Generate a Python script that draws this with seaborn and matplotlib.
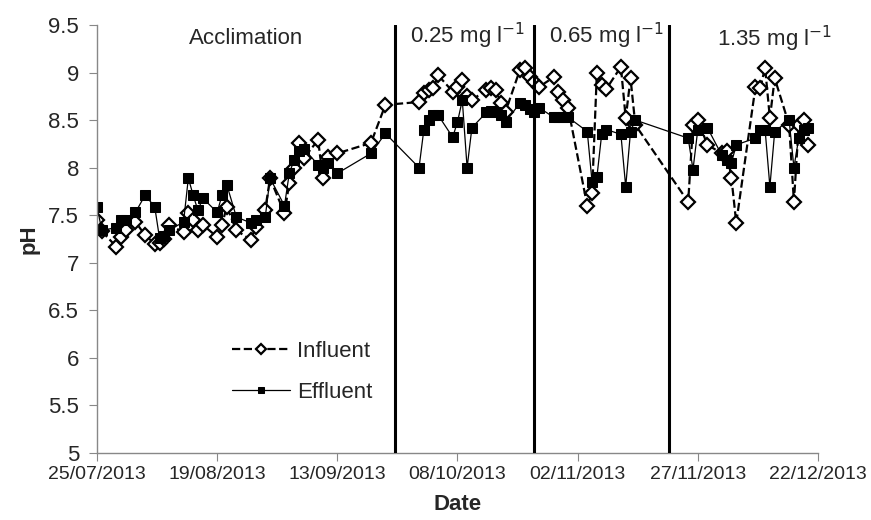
import pandas as pd
import matplotlib.pyplot as plt
import matplotlib.dates as mdates
from matplotlib.ticker import FormatStrFormatter
import seaborn as sns

# dates of sampling
dates = ["2013-07-25", "2013-07-26", "2013-07-29", "2013-07-30", "2013-07-31",
         "2013-08-02", "2013-08-04", "2013-08-06", "2013-08-07", "2013-08-08",
         "2013-08-09", "2013-08-12", "2013-08-13", "2013-08-14", "2013-08-15",
         "2013-08-16", "2013-08-19", "2013-08-20", "2013-08-21", "2013-08-23",
         "2013-08-26", "2013-08-27", "2013-08-29", "2013-08-30", "2013-09-02",
         "2013-09-03", "2013-09-04", "2013-09-05", "2013-09-06", "2013-09-09",
         "2013-09-10", "2013-09-11", "2013-09-13", "2013-09-20", "2013-09-23",
         "2013-09-30", "2013-10-01", "2013-10-02", "2013-10-03", "2013-10-04",
         "2013-10-07", "2013-10-08", "2013-10-09", "2013-10-10", "2013-10-11",
         "2013-10-14", "2013-10-15", "2013-10-16", "2013-10-17", "2013-10-18",
         "2013-10-21", "2013-10-22", "2013-10-23", "2013-10-24", "2013-10-25",
         "2013-10-28", "2013-10-29", "2013-10-30", "2013-10-31", "2013-11-04",
         "2013-11-05", "2013-11-06", "2013-11-07", "2013-11-08", "2013-11-11",
         "2013-11-12", "2013-11-13", "2013-11-14", "2013-11-25", "2013-11-26",
         "2013-11-27", "2013-11-29", "2013-12-02", "2013-12-03", "2013-12-04",
         "2013-12-05", "2013-12-09", "2013-12-10", "2013-12-11", "2013-12-12",
         "2013-12-13", "2013-12-16", "2013-12-17", "2013-12-18", "2013-12-19",
         "2013-12-20"]

influent = [7.45, 7.33, 7.17, 7.27, 7.34, 7.43, 7.29, 7.20, 7.21, 7.25,
            7.40, 7.32, 7.52, 7.45, 7.34, 7.40, 7.27, 7.40, 7.59, 7.34,
            7.24, 7.38, 7.56, 7.89, 7.52, 7.84, 8.00, 8.26, 8.10, 8.29,
            7.89, 8.11, 8.15, 8.26, 8.66, 8.69, 8.78, 8.82, 8.84, 8.97,
            8.80, 8.85, 8.92, 8.75, 8.71, 8.82, 8.84, 8.82, 8.68, 8.59,
            9.03, 9.05, 8.95, 8.90, 8.85, 8.95, 8.80, 8.71, 8.63, 7.60,
            7.73, 9.00, 8.87, 8.83, 9.06, 8.52, 8.94, 8.45, 7.64, 8.45,
            8.50, 8.24, 8.15, 8.18, 7.89, 7.42, 8.85, 8.84, 9.05, 8.52,
            8.94, 8.45, 7.64, 8.45, 8.50, 8.24]

effluent = [7.59, 7.34, 7.37, 7.45, 7.45, 7.53, 7.71, 7.59, 7.26, 7.28,
            7.34, 7.43, 7.89, 7.71, 7.55, 7.68, 7.53, 7.71, 7.82, 7.48,
            7.42, 7.45, 7.48, 7.89, 7.60, 7.94, 8.08, 8.18, 8.20, 8.03,
            8.00, 8.05, 7.94, 8.15, 8.36, 8.00, 8.40, 8.50, 8.55, 8.55,
            8.32, 8.48, 8.71, 8.00, 8.42, 8.58, 8.60, 8.58, 8.55, 8.48,
            8.68, 8.66, 8.62, 8.58, 8.63, 8.53, 8.53, 8.53, 8.53, 8.38,
            7.85, 7.90, 8.35, 8.40, 8.35, 7.80, 8.38, 8.50, 8.31, 7.98,
            8.40, 8.42, 8.13, 8.08, 8.05, 8.24, 8.31, 8.40, 8.40, 7.80,
            8.38, 8.50, 8.00, 8.31, 8.40, 8.42]

# phase boundaries and labels
phase_changes = ["2013-09-25", "2013-10-24", "2013-11-21"]
phase_labels = ["Acclimation", "0.25 mg l$^{-1}$", "0.65 mg l$^{-1}$", "1.35 mg l$^{-1}$"]
phase_label_dates = ["2013-08-25", "2013-10-10", "2013-11-08", "2013-12-13"]
phase_label_y = [9.36, 9.39, 9.38, 9.35]
y_ticks = [5, 5.5, 6, 6.5, 7, 7.5, 8, 8.5, 9, 9.5]

df = pd.DataFrame({"Date": pd.to_datetime(dates), "Influent": influent, "Effluent": effluent})

sns.set_style("white")
plt.rcParams['font.family'] = ['Liberation Sans', 'DejaVu Sans']

fig = plt.figure(figsize=(8.71, 5.2), dpi=100)
ax = fig.add_axes([0.1114, 0.1288, 0.8277, 0.8232])

sns.lineplot(data=df, x="Date", y="Influent", ax=ax, color="black", linestyle="--",
             linewidth=1.6, marker="D", markersize=7, markerfacecolor="white",
             markeredgecolor="black", markeredgewidth=1.6, label="Influent", sort=False)
sns.lineplot(data=df, x="Date", y="Effluent", ax=ax, color="black", linestyle="-",
             linewidth=0.9, marker="s", markersize=7, markerfacecolor="black",
             markeredgecolor="black", label="Effluent", sort=False)

for d in phase_changes:
    ax.axvline(pd.Timestamp(d), color="black", linewidth=2.2, zorder=5)

for lab, d, yy in zip(phase_labels, phase_label_dates, phase_label_y):
    ax.text(pd.Timestamp(d), yy, lab, ha="center", va="center", fontsize=16)

ax.set_ylim(5, 9.5)
ax.set_yticks(y_ticks)
ax.yaxis.set_major_formatter(FormatStrFormatter('%g'))
ax.set_xlim(pd.Timestamp("2013-07-25"), pd.Timestamp("2013-12-22"))
ax.set_xticks(pd.date_range("2013-07-25", periods=7, freq="25D"))
ax.xaxis.set_major_formatter(mdates.DateFormatter("%d/%m/%Y"))

for side in ["top", "right"]:
    ax.spines[side].set_visible(False)
for side in ["left", "bottom"]:
    ax.spines[side].set_color("#888888")
    ax.spines[side].set_linewidth(1.0)
ax.tick_params(axis="both", direction="out", length=6, color="#888888",
               left=True, bottom=True)
ax.tick_params(axis="y", labelsize=16, pad=7)
ax.tick_params(axis="x", labelsize=14, pad=3)

ax.set_xlabel("Date", fontsize=16, fontweight="bold", labelpad=8)
ax.set_ylabel("pH", fontsize=16, fontweight="bold", labelpad=6)

ax.legend(loc="center left", bbox_to_anchor=(0.16, 0.19), frameon=False,
          fontsize=16, handlelength=2.6, labelspacing=0.9, markerscale=0.7,
          handletextpad=0.3)

fig.savefig("out.png", dpi=100)
